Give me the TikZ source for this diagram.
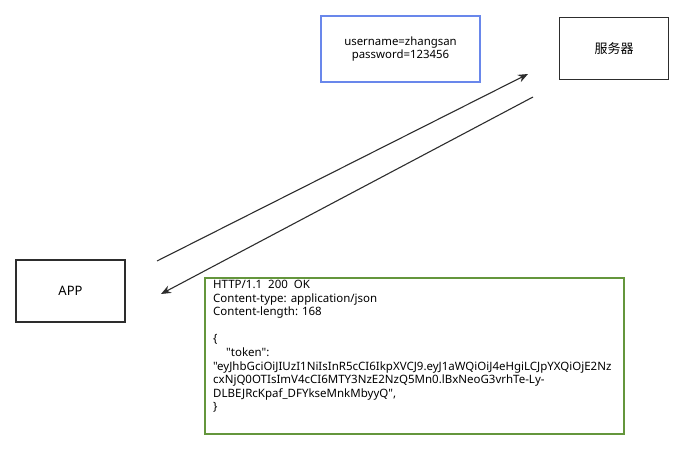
\documentclass[tikz,border=0pt]{standalone}
\usepackage{fontspec}
\setmainfont{Noto Sans}[Ligatures=TeXOff]
\newfontfamily\cjk{Noto Sans CJK SC}
\usetikzlibrary{arrows.meta}
\definecolor{boxline}{RGB}{45,45,45}
\definecolor{bluebox}{RGB}{105,135,235}
\definecolor{greenbox}{RGB}{100,150,60}
\begin{document}
\begin{tikzpicture}[x=1pt, y=-1pt]
    % Define styles
    \tikzstyle{party} = [rectangle, minimum width=109pt, minimum height=62pt, text centered, draw=boxline, line width=1.4pt, font=\fontsize{13}{15}\selectfont]
    \tikzstyle{note} = [rectangle, draw=bluebox, line width=1.4pt, minimum width=159pt, minimum height=66pt, align=center, font=\fontsize{11.4}{13.6}\selectfont]
    \tikzstyle{reply} = [rectangle, draw=greenbox, line width=1.4pt, minimum width=419pt, minimum height=156pt, inner sep=0pt]
    \tikzstyle{arrow} = [-{Stealth[length=10pt, width=8pt]}, draw=boxline, line width=1.1pt]

    \useasboundingbox (0,0) rectangle (689,452);

    % Place nodes
    \node (app) [party] at (70.5,291) {APP};
    \node (server) [party] at (614,48.5) {\cjk 服务器};
    \node (login) [note] at (400.5,49) {username=zhangsan\\password=123456};
    \node (response) [reply] at (414.5,356) {};
    \node (body) [anchor=north west, inner sep=0pt, align=left, font=\fontsize{11.5}{13.6}\selectfont] at (213,280) {HTTP/1.1~~200~~OK\\
Content-type: application/json\\
Content-length: 168\\
\mbox{}\\
\{\\
\hspace*{13pt}"token":\\
"eyJhbGciOiJIUzI1NiIsInR5cCI6IkpXVCJ9.eyJ1aWQiOiJ4eHgiLCJpYXQiOjE2Nz\\
cxNjQ0OTIsImV4cCI6MTY3NzE2NzQ5Mn0.lBxNeoG3vrhTe-Ly-\\
DLBEJRcKpaf\_DFYkseMnkMbyyQ",\\
\}};

    % Arrow end points
    \coordinate (reqstart) at (157,261);
    \coordinate (reqend) at (528,74);
    \coordinate (respstart) at (533,97);
    \coordinate (respend) at (161,294);

    % Draw arrows
    \draw [arrow] (reqstart) -- (reqend);
    \draw [arrow] (respstart) -- (respend);
\end{tikzpicture}
\end{document}
